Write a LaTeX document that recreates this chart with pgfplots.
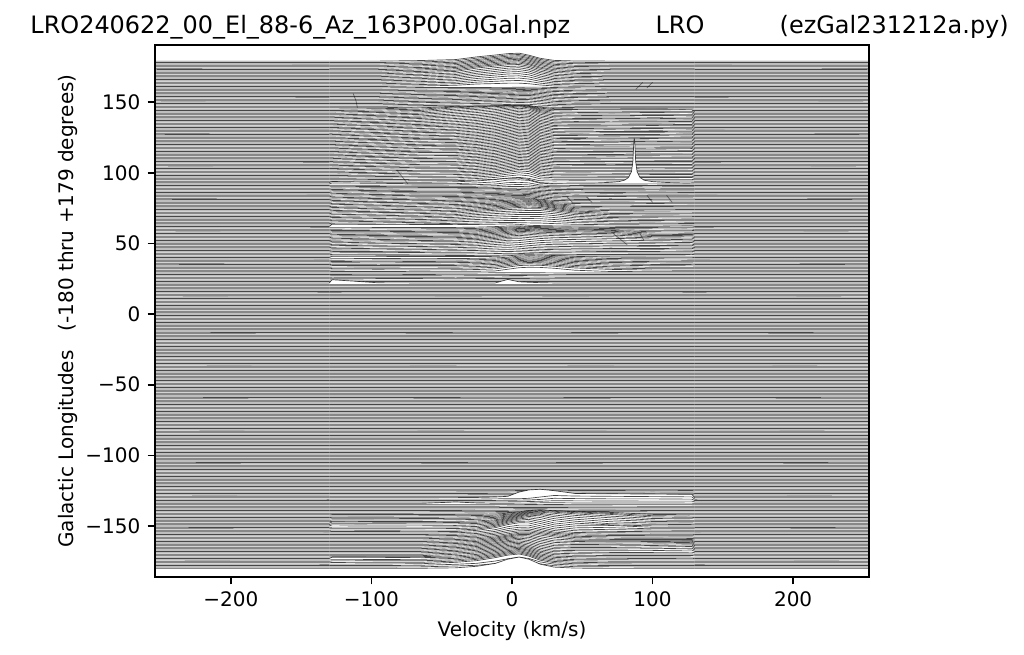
\documentclass[border=0pt]{standalone}
\usepackage{fontspec}
\setmainfont{DejaVu Sans}
\usepackage{pgfplots}
\usepackage{pgfplotstable}
\pgfplotsset{compat=1.18}

% one row per galactic longitude, offsets in tenths of a degree at each velocity
\pgfplotstableread{
lon -130 -128 -95 -65 -40 -25 -12 -3 5 12 20 30 45 70 100 128 130
179 0 0 0 4 11 30 43 53 56 42 20 5 1 0 0 0 0
178 0 0 0 4 12 31 44 54 57 44 22 6 1 0 0 0 0
177 0 0 0 5 12 31 46 55 58 45 23 6 2 0 0 0 0
176 0 0 0 5 13 33 47 56 60 47 24 7 1 0 0 0 0
175 0 0 0 6 14 34 48 58 61 48 26 8 2 0 0 0 0
174 0 0 0 5 14 35 50 59 63 50 27 8 2 0 0 0 0
173 0 0 0 6 15 37 51 60 64 51 28 9 2 0 0 0 0
172 0 0 0 7 16 38 52 62 65 52 28 9 3 0 0 0 0
171 0 0 0 7 16 40 54 63 66 54 30 10 2 0 0 0 0
170 0 0 0 8 17 41 55 64 66 54 30 10 3 0 0 0 0
169 0 0 0 7 16 38 53 62 65 54 29 9 2 0 0 0 0
168 0 0 0 7 15 36 50 60 63 52 28 9 2 0 0 0 0
167 0 0 0 6 15 34 47 57 60 50 26 8 3 0 0 0 0
166 0 0 0 6 14 32 44 53 56 47 24 7 2 0 0 0 0
165 0 0 0 6 13 30 41 49 51 43 22 7 2 0 0 0 0
164 0 0 0 5 12 27 37 44 46 38 20 6 3 0 0 0 0
163 0 0 0 5 11 24 32 38 40 33 17 5 2 0 0 0 0
162 0 0 0 4 10 21 27 31 33 27 14 5 1 0 0 0 0
161 0 0 0 4 9 18 21 24 24 20 11 4 2 0 0 0 0
160 0 0 0 3 3 3 4 4 5 6 6 3 1 0 0 0 0
159 0 0 0 3 4 5 5 6 7 8 7 4 2 0 0 0 0
158 0 0 0 3 4 6 7 7 9 10 8 4 1 0 0 0 0
157 0 0 0 3 5 7 8 9 11 12 9 5 2 0 0 0 0
156 0 0 0 4 6 8 9 11 13 14 10 4 1 0 0 0 0
155 0 0 0 4 6 9 11 12 14 15 11 4 2 0 0 0 0
154 0 0 0 4 7 9 12 13 15 16 11 5 1 0 0 0 0
153 0 0 0 5 7 10 12 14 16 17 12 4 2 0 0 0 0
152 0 0 0 5 8 10 13 15 17 17 12 5 1 0 0 0 0
151 0 0 0 5 8 11 13 15 17 18 13 4 2 0 0 0 0
150 0 0 0 5 8 11 14 15 18 18 12 5 1 0 0 0 0
149 0 0 0 6 9 11 13 16 18 17 12 4 2 0 0 0 0
148 0 0 0 5 8 10 13 15 17 16 11 4 1 0 0 0 0
147 0 0 0 5 8 9 11 13 15 14 9 4 1 0 0 0 0
146 0 0 0 5 7 7 8 9 10 10 7 3 1 0 0 0 0
145 0 0 3 9 20 22 24 26 28 26 14 4 2 2 3 1 0
144 0 0 4 10 26 30 33 35 37 34 18 5 2 3 3 2 0
143 0 0 5 11 30 36 42 44 46 42 22 18 17 16 16 15 0
142 0 0 6 12 30 38 48 52 55 50 26 18 16 16 15 14 0
141 0 0 5 12 29 38 48 56 62 56 30 17 17 15 16 15 0
140 0 0 6 13 28 37 47 57 66 60 32 18 15 16 14 13 0
139 0 0 6 12 27 36 46 57 66 61 34 17 16 14 15 14 0
138 0 0 7 13 26 34 45 56 65 61 34 16 15 15 13 14 0
137 0 0 6 14 25 33 44 55 65 60 33 17 14 13 15 12 0
136 0 0 5 13 24 32 43 54 64 60 33 15 15 14 13 13 0
135 0 0 6 13 23 31 42 54 63 59 32 16 13 15 14 12 0
134 0 0 7 12 22 30 42 53 63 59 31 14 14 13 12 13 0
133 0 0 6 12 21 29 41 52 62 58 31 15 13 14 13 11 0
132 0 0 5 13 20 28 40 51 62 58 30 14 12 12 14 12 0
131 0 0 6 14 20 28 39 50 61 57 30 15 14 13 12 12 0
130 0 0 7 13 19 27 38 50 60 57 29 13 13 12 13 11 0
129 0 0 6 12 18 26 37 49 60 56 29 14 12 14 11 12 0
128 0 0 5 13 18 26 36 48 59 56 28 13 13 12 12 10 0
127 0 0 6 14 17 25 35 48 59 55 28 14 11 13 13 11 0
126 0 0 7 13 17 24 35 47 58 55 27 12 12 11 11 12 0
125 0 0 6 12 16 24 34 46 58 54 27 13 13 12 12 10 0
124 0 0 5 12 16 23 34 46 57 54 26 12 11 13 10 11 0
123 0 0 6 13 15 23 33 45 57 53 26 13 12 11 12 10 0
122 0 0 7 14 16 22 33 45 56 53 25 11 13 12 11 11 0
121 0 0 6 13 15 22 32 44 56 52 25 12 11 10 12 9 0
120 0 0 5 12 14 21 32 44 55 52 24 13 12 12 10 10 0
119 0 0 6 11 14 21 31 43 55 51 24 11 10 11 11 11 0
118 0 0 7 12 15 20 31 43 54 51 23 12 12 10 10 9 0
117 0 0 6 13 14 20 30 42 54 50 23 11 11 12 11 10 0
116 0 0 5 12 13 19 30 42 53 50 22 12 10 10 9 11 0
115 0 0 6 11 13 19 29 41 53 49 22 10 12 11 11 9 0
114 0 0 7 12 14 20 29 41 52 49 21 11 10 10 10 10 0
113 0 0 6 13 13 19 28 40 52 48 21 12 11 11 9 9 0
112 0 0 5 12 12 18 28 40 51 48 20 10 10 9 11 10 0
111 0 0 6 11 12 18 27 39 51 47 20 11 11 10 10 8 0
110 0 0 7 10 11 17 27 39 50 47 19 10 9 11 9 9 0
109 0 0 6 11 12 17 26 38 50 46 19 9 10 10 10 10 0
108 0 0 5 10 11 16 26 38 49 46 18 10 11 9 9 8 0
107 0 0 4 9 10 16 25 37 49 45 18 9 9 10 10 9 0
106 0 0 5 10 9 15 25 37 48 45 17 10 10 8 9 10 0
105 0 0 4 9 10 15 24 36 48 44 17 9 8 9 8 8 0
104 0 0 5 8 9 14 24 36 47 44 16 8 9 10 9 9 0
103 0 0 4 9 8 14 23 35 47 43 16 9 8 8 8 8 0
102 0 0 5 8 9 13 23 35 46 43 15 8 9 9 7 9 0
101 0 0 4 7 8 13 22 34 46 42 15 7 8 7 8 7 0
100 0 0 3 8 7 12 22 34 45 42 14 8 7 8 7 8 0
99 0 0 4 7 8 12 21 33 45 41 14 7 8 7 6 6 0
98 0 0 3 6 7 11 21 33 44 40 13 6 6 6 7 7 0
97 0 0 3 5 6 11 20 32 43 38 12 6 7 5 5 5 0
96 0 0 3 4 5 10 19 30 40 34 10 5 5 5 6 6 0
95 0 0 2 3 4 9 17 27 35 28 7 4 4 4 4 3 0
94 0 0 2 3 4 8 14 22 27 20 3 2 3 2 2 2 0
92 0 8 5 2 3 8 15 28 30 26 6 1 1 0 1 0 0
91 0 2 2 3 4 6 10 20 22 18 3 1 0 0 0 0 0
90 0 1 3 4 4 5 8 15 17 14 4 1 0 1 0 1 0
89 0 2 4 5 5 6 8 12 13 11 5 2 0 0 1 0 0
88 0 1 5 6 6 7 8 10 11 10 6 2 1 0 0 0 0
87 0 2 5 7 7 8 9 10 11 10 6 3 0 1 0 1 0
86 0 3 6 8 8 10 10 12 12 11 7 2 1 0 2 0 0
85 0 2 7 9 9 11 12 13 14 13 8 3 0 1 0 0 0
84 0 3 6 10 10 12 13 15 16 14 9 3 1 0 1 0 0
83 0 4 7 11 11 13 15 17 17 16 10 4 0 2 0 0 0
82 0 3 8 10 12 15 17 18 19 18 11 3 1 0 1 1 0
81 0 4 8 11 13 16 18 20 21 20 12 4 1 1 0 0 0
80 0 3 9 12 14 17 20 22 23 22 13 4 2 0 1 0 0
79 0 4 8 12 15 18 21 24 26 26 18 5 1 1 0 0 0
78 0 3 9 11 16 19 22 25 28 30 22 7 2 0 2 1 0
77 0 4 8 12 16 20 24 27 30 33 26 10 1 1 0 0 0
76 0 3 7 13 15 21 25 29 33 36 30 14 2 0 1 0 0
75 0 4 8 12 16 22 27 31 35 38 33 18 3 1 0 1 0
74 0 3 9 11 17 23 28 33 37 41 37 21 5 1 1 0 0
73 0 2 8 12 16 23 30 35 40 44 40 24 7 2 0 0 0
72 0 3 7 11 15 24 31 37 42 46 43 28 9 1 2 1 0
71 0 4 8 10 16 25 33 39 44 47 44 30 12 2 0 0 0
70 0 3 7 11 15 26 34 39 43 46 45 32 13 3 1 0 0
69 0 2 6 10 14 25 33 37 41 43 43 32 13 2 2 1 0
68 0 3 7 9 15 24 31 35 38 39 39 30 12 3 1 0 0
67 0 2 6 10 14 23 29 32 35 35 35 27 11 4 0 1 0
66 0 3 5 9 13 21 26 29 31 31 30 23 10 3 2 0 0
65 0 2 6 8 14 19 23 25 27 26 25 19 8 4 1 0 0
64 0 3 5 9 13 17 20 22 22 21 20 15 7 3 2 1 0
63 0 2 4 8 12 14 17 18 17 15 14 10 5 2 1 0 0
62 0 16 15 14 13 14 16 18 15 8 6 4 3 2 1 3 0
61 0 1 2 2 3 5 9 13 14 10 9 7 5 3 2 1 0
60 0 0 3 3 4 6 11 15 18 14 12 10 8 5 3 1 0
59 0 1 2 4 5 7 13 18 22 19 16 14 11 7 2 2 0
58 0 2 3 5 6 9 15 21 26 24 20 18 15 12 2 1 0
57 0 3 4 6 7 11 17 24 30 28 24 22 19 16 3 2 0
56 0 2 5 7 8 12 19 26 33 31 27 25 22 18 4 3 0
55 0 3 6 8 9 13 21 28 35 33 29 26 23 19 6 5 0
54 0 4 7 9 10 14 22 30 36 34 29 26 23 19 8 6 0
53 0 3 8 10 11 15 23 31 37 34 29 25 22 17 9 7 0
52 0 4 7 11 12 16 24 32 37 33 27 23 20 16 10 6 0
51 0 5 8 10 13 17 25 33 36 31 25 20 17 13 9 7 0
50 0 4 9 11 12 17 26 33 34 28 21 17 14 10 8 6 0
49 0 3 8 10 11 16 25 32 31 24 17 13 11 8 7 5 0
48 0 4 7 9 12 15 24 30 27 20 14 11 9 7 5 6 0
47 0 3 6 8 11 14 22 27 23 16 11 9 7 5 6 4 0
46 0 2 5 7 10 13 20 24 19 13 9 7 6 4 4 5 0
45 0 3 4 6 9 11 17 20 16 11 8 6 4 3 5 3 0
44 0 2 3 5 8 10 14 16 13 10 7 5 5 2 3 4 0
43 0 3 4 6 7 8 11 13 11 8 6 4 3 3 2 2 0
42 0 2 3 4 5 6 8 10 9 7 5 3 2 1 1 2 0
41 0 1 2 3 4 5 6 8 8 6 4 3 1 1 1 0 0
40 0 8 8 7 7 7 8 12 18 20 18 14 8 3 1 1 0
39 0 2 3 2 3 4 7 12 20 23 21 16 9 3 1 0 0
38 0 1 2 3 2 5 8 14 22 25 23 18 10 4 2 1 0
37 0 2 3 2 3 5 9 15 24 27 25 20 11 4 1 0 0
36 0 3 2 3 4 6 10 17 26 29 27 22 12 5 2 1 0
35 0 2 3 2 3 6 11 19 28 31 29 24 13 5 1 0 0
34 0 3 4 3 4 7 11 20 30 33 31 25 14 6 2 1 0
33 0 2 3 4 3 6 11 21 31 35 33 26 14 5 1 0 0
32 0 3 4 3 4 6 11 22 33 36 34 27 15 5 1 1 0
31 0 2 3 2 3 5 10 22 33 36 35 28 16 6 1 0 0
30 0 1 1 2 2 3 5 17 28 31 30 24 10 1 0 0 0
29 0 1 0 1 1 1 2 3 3 2 2 1 1 0 0 0 0
28 0 0 1 0 1 1 1 2 2 2 1 1 0 0 0 0 0
27 0 1 1 1 0 1 2 2 3 2 1 0 0 0 0 0 0
26 0 1 0 0 1 0 1 2 2 1 1 1 0 0 0 0 0
25 0 0 1 1 0 1 1 1 2 1 0 0 0 0 0 0 0
24 0 1 0 0 0 0 1 1 1 1 1 0 0 0 0 0 0
23 0 0 0 0 0 0 0 1 1 0 0 0 0 0 0 0 0
22 0 23 1 0 0 0 0 25 8 5 2 0 0 0 0 0 0
-125 0 0 0 0 0 0 0 0 1 1 1 0 1 1 0 1 0
-126 0 0 0 0 0 1 1 1 2 2 2 1 1 1 1 1 0
-127 0 0 0 0 0 0 1 1 2 3 3 2 1 2 1 2 0
-128 0 0 0 0 0 1 1 2 3 4 4 3 3 2 2 2 0
-129 0 0 0 0 0 0 1 2 3 4 4 3 3 3 2 2 0
-130 0 0 0 0 1 2 5 10 40 55 60 50 30 28 26 24 0
-131 0 0 0 0 0 0 2 3 3 6 15 26 22 20 18 16 0
-132 0 0 0 0 0 1 1 2 3 4 8 16 14 12 12 10 0
-133 0 0 0 0 0 0 1 1 2 3 5 9 8 7 6 6 0
-134 0 0 0 0 10 3 1 1 2 2 4 5 3 3 3 2 0
-135 0 0 0 0 0 0 1 1 1 2 3 2 1 1 1 1 0
-136 0 0 0 0 0 0 0 1 1 1 2 1 1 1 0 0 0
-137 0 0 0 0 0 0 0 1 1 1 1 1 0 0 0 0 0
-138 0 0 0 0 0 1 1 1 2 2 2 1 1 0 0 0 0
-139 0 0 0 0 0 1 1 2 3 3 3 2 1 1 0 0 0
-140 0 0 0 0 1 1 2 3 5 6 6 4 3 2 0 0 0
-141 0 0 0 1 1 2 3 5 8 10 10 8 5 2 0 0 0
-142 0 1 1 1 2 3 5 10 20 30 33 28 22 16 2 0 0
-143 0 1 1 2 3 4 7 13 25 38 44 38 30 19 3 0 0
-144 0 1 2 2 3 5 9 17 30 44 50 44 34 22 4 1 0
-145 0 1 2 3 4 6 11 20 35 50 54 48 36 20 3 1 0
-146 0 2 3 3 4 7 13 24 40 55 58 50 35 18 2 0 0
-147 0 3 2 2 3 6 14 28 45 60 60 48 32 14 2 0 0
-148 0 8 7 6 5 7 17 32 50 64 62 46 28 10 1 1 0
-149 0 7 6 5 5 8 19 36 54 67 62 42 24 6 2 0 0
-150 0 8 6 6 4 8 21 40 57 68 60 38 20 8 1 0 0
-151 0 2 3 2 3 7 23 44 60 68 56 32 16 14 1 0 0
-152 0 1 1 1 2 7 25 47 62 67 52 28 12 8 0 0 0
-153 0 1 0 1 1 8 27 49 63 65 48 24 8 4 1 0 0
-154 0 1 1 0 1 9 28 50 63 62 42 20 6 2 0 0 0
-155 0 0 0 0 2 8 24 45 56 56 38 18 4 2 1 1 0
-156 0 0 0 0 2 7 22 41 51 52 36 17 5 2 1 1 0
-157 0 0 0 0 3 7 21 38 48 49 35 19 6 3 2 1 0
-158 0 0 0 0 3 8 21 36 47 48 35 20 7 3 2 2 0
-159 0 0 0 0 4 8 21 35 47 48 36 21 8 4 3 2 0
-160 0 0 0 0 4 9 22 36 48 49 36 21 8 5 4 4 0
-161 0 0 0 0 5 10 24 39 50 50 34 18 9 8 8 8 0
-162 0 0 0 0 5 11 26 42 52 50 32 15 10 9 10 12 0
-163 0 0 0 0 6 12 28 44 53 50 31 14 9 10 11 14 0
-164 0 0 0 0 6 13 30 46 54 48 29 12 9 10 12 15 0
-165 0 0 0 0 7 14 31 47 55 47 27 11 8 9 12 16 0
-166 0 0 0 0 7 15 33 49 55 46 25 10 8 8 11 15 0
-167 0 0 0 0 8 16 34 50 56 45 24 9 7 7 9 13 0
-168 0 0 0 0 8 17 35 51 57 44 23 8 6 5 6 10 0
-169 0 0 0 0 9 18 36 52 58 44 22 8 5 3 3 5 0
-170 0 0 0 0 9 18 37 53 59 45 22 7 4 2 2 2 0
-171 0 0 0 0 10 19 38 54 60 46 23 7 3 1 1 1 0
-172 0 2 2 3 9 19 39 55 62 48 23 7 3 1 1 0 0
-173 0 9 8 6 10 20 40 56 64 50 24 8 3 1 0 1 0
-174 0 1 3 4 11 21 41 58 66 51 25 8 2 1 0 0 0
-175 0 3 4 4 11 22 43 60 68 53 26 9 3 1 1 0 0
-176 0 2 3 3 12 24 45 62 70 55 27 9 3 0 0 0 0
-177 0 0 1 3 13 25 46 64 72 57 28 10 3 1 0 0 0
-178 0 0 0 2 9 16 32 48 60 50 26 10 3 0 0 0 0
-179 0 0 0 1 7 12 24 38 50 42 22 9 2 1 0 0 0
-180 0 0 0 1 4 15 35 65 80 65 30 9 2 0 0 0 0
}\specrows
\pgfplotstabletranspose[colnames from=lon]\spectra\specrows

\pgfplotsset{
  flat/.style={black,draw opacity=0.72,line width=0.32pt,forget plot},
  spec/.style={draw=black,draw opacity=0.72,fill=white,line width=0.32pt,forget plot},
  speck/.style={black,draw opacity=0.45,line width=0.35pt,forget plot},
}
\newcommand{\spectrum}[1]{\addplot[spec] table[x=colnames,y expr=\thisrow{#1}/10+(#1)] {\spectra};}

\begin{document}
\begin{tikzpicture}
\path[use as bounding box] (-74.4pt,-36.96pt) rectangle ++(491.52pt,313.92pt);
\begin{axis}[
    scale only axis,
    width=342.72pt,
    height=255.36pt,
    xmin=-254, xmax=254,
    ymin=-186.1, ymax=190.4,
    xtick={-200,-100,0,100,200},
    xticklabels={−200,−100,0,100,200},
    ytick={-150,-100,-50,0,50,100,150},
    yticklabels={−150,−100,−50,0,50,100,150},
    tick align=outside,
    tick pos=left,
    major tick length=3.5pt,
    tick style={black,line width=0.8pt},
    axis line style={line width=0.8pt},
    every tick label/.append style={font=\fontsize{9.6}{12}\selectfont},
    label style={font=\fontsize{9.6}{12}\selectfont},
    xlabel={Velocity (km/s)},
    ylabel={Galactic Longitudes \ \ (-180 thru +179 degrees)},
    ylabel shift=-3pt,
    axis on top,
]
% flat part outside the measured band, every longitude (the .01 keeps the line off the pixel grid)
\pgfplotsinvokeforeach{179,178,...,-180}{
  \addplot[flat] coordinates {(-255,#1)(-130,#1.01)};
  \addplot[flat] coordinates {(130,#1.01)(255,#1)};
}
% longitudes with no signal
\pgfplotsinvokeforeach{21,20,...,-124}{
  \addplot[flat] coordinates {(-130,#1.01)(0,#1)(130,#1.01)};
}
\pgfplotsinvokeforeach{179,178,...,94}{\spectrum{#1}}
% longitude 93 carries the narrow interference spike
\addplot[spec] coordinates {(-130,93)(-128,93.8)(-95,93.3)(-65,93.2)(-40,93.6)(-25,94.2)(-12,95.2)(-3,96)(5,96.2)(12,95.2)(20,93)(30,92.5)(40,92.7)(60,92.8)(70,93.2)(76,93.7)(80,94.7)(83,96.7)(85,100.7)(86,107.7)(86.6,120.7)(87,124.7)(87.4,120.7)(88,107.7)(89,100.7)(91,96.7)(94,94.7)(100,93.7)(110,93.1)(125,92.7)(130,93)};
\pgfplotsinvokeforeach{92,91,...,22}{\spectrum{#1}}
\pgfplotsinvokeforeach{-125,-126,...,-180}{\spectrum{#1}}
% short narrow features
\addplot[speck] coordinates {(-113,156)(-111,151)(-110,146)};
\addplot[speck] coordinates {(-82,102)(-78,97)(-74,92)};
\addplot[speck] coordinates {(39,83)(43,79)};
\addplot[speck] coordinates {(53,83)(57,79)};
\addplot[speck] coordinates {(96,84)(100,79)};
\addplot[speck] coordinates {(110,84)(114,79)};
\addplot[speck] coordinates {(88,159)(93,164)};
\addplot[speck] coordinates {(96,160)(100,164)};
\addplot[speck] coordinates {(72,57)(77,53)(82,49)};
\addplot[speck] coordinates {(91,57)(94,52)};
\end{axis}
\node[inner sep=0pt,anchor=base west,font=\fontsize{11.5}{14}\selectfont] at (-60pt,261pt) {LRO240622\_00\_El\_88-6\_Az\_163P00.0Gal.npz};
\node[inner sep=0pt,anchor=base,font=\fontsize{11.5}{14}\selectfont] at (252pt,261pt) {LRO};
\node[inner sep=0pt,anchor=base east,font=\fontsize{11.5}{14}\selectfont] at (410pt,261pt) {(ezGal231212a.py)};
\end{tikzpicture}
\end{document}
